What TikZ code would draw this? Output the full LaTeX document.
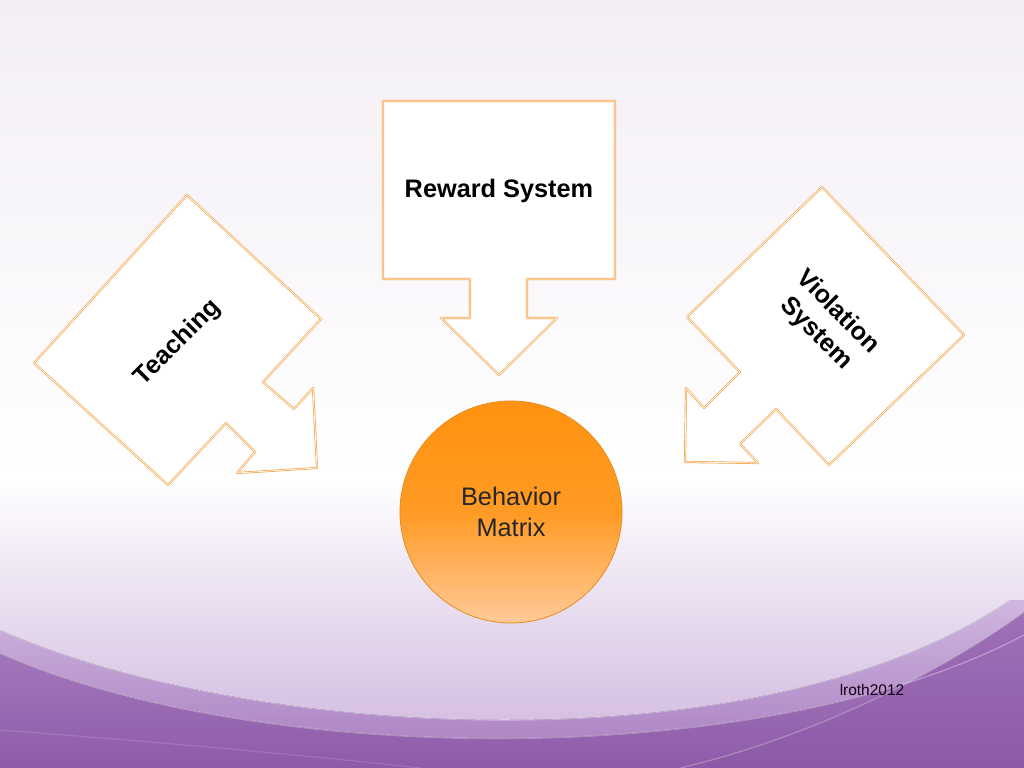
\documentclass[tikz,border=0pt]{standalone}
\usepackage{fontspec}
\setmainfont{Liberation Sans}
\definecolor{lavtop}{HTML}{F3EEF6}
\definecolor{lilac}{HTML}{CDB3DD}
\definecolor{wavetop}{HTML}{CFB6DF}
\definecolor{wavebot}{HTML}{A77CBF}
\definecolor{deeptop}{HTML}{A67BBE}
\definecolor{deepbot}{HTML}{8D59A8}
\definecolor{boxline}{HTML}{F5A548}
\definecolor{balltop}{HTML}{FF9210}
\definecolor{ballbot}{HTML}{FFCA98}
\definecolor{ballline}{HTML}{E88E1E}
\begin{document}
\begin{tikzpicture}[line cap=round,line join=round,x=0.025cm,y=-0.025cm,
    callout/.style={draw=boxline,line width=0.5pt,double=white,double distance=0.5pt,fill=white},
    label/.style={font=\fontsize{18}{21.5}\selectfont\bfseries,align=center,inner sep=0pt},
    wave/.style={white,opacity=0.35,line width=0.8pt}]
    \useasboundingbox (0,0) rectangle (1024,768);
    \fill[top color=lavtop,bottom color=white] (0,0) rectangle (1024,480);
    \fill[top color=white,bottom color=lilac] (0,480) rectangle (1024,768);
    \fill[top color=wavetop,bottom color=wavebot] (0,630) .. controls (250,740) and (760,770) .. (1010,600) -- (1024,600) -- (1024,768) -- (0,768) -- cycle;
    \fill[top color=deeptop,bottom color=deepbot] (0,653) .. controls (250,765) and (760,775) .. (1024,635) -- (1024,768) -- (0,768) -- cycle;
    \fill[top color=deeptop!70!deepbot,bottom color=deepbot] (1024,612) .. controls (930,680) and (800,740) .. (680,768) -- (1024,768) -- cycle;
    \draw[wave] (0,630) .. controls (250,740) and (760,770) .. (1010,600);
    \draw[wave] (0,653) .. controls (250,765) and (760,775) .. (1024,635);
    \draw[wave] (1024,612) .. controls (930,680) and (800,740) .. (680,768);
    \draw[wave,opacity=0.15] (0,730) .. controls (200,745) and (350,760) .. (420,768);
    \draw[callout] (383,101) -- (615,101) -- (615,279) -- (527,279) -- (527,318) -- (557,318)
        -- (499,375) -- (441,318) -- (470,318) -- (470,279) -- (383,279) -- cycle;
    \node[label] (reward) at (499,191) {Reward System};
    \draw[callout] (187,195) -- (321,319) -- (263,382) -- (294,409) -- (313,388) -- (317,468)
        -- (237,473) -- (255,452) -- (226,423) -- (168,485) -- (34,363) -- cycle;
    \node[label,rotate=45] (teaching) at (178,343) {Teaching};
    \draw[callout] (822,187) -- (964,335) -- (829,465) -- (776,409) -- (740,444) -- (758,463)
        -- (685,462) -- (686,388) -- (704,408) -- (740,372) -- (687,317) -- cycle;
    \node[label,rotate=-45] (violation) at (827,323) {Violation\\System};
    \draw[top color=balltop,bottom color=ballbot,middle color=balltop!85!ballbot,draw=ballline,line width=0.6pt] (511,512) circle (111);
    \node[label,font=\fontsize{18}{21.5}\selectfont,text=black!85] (matrix) at (511,512) {Behavior\\Matrix};
    \node[font=\fontsize{11}{13}\selectfont,text=black!85!violet] (credit) at (872,690) {lroth2012};
\end{tikzpicture}
\end{document}
